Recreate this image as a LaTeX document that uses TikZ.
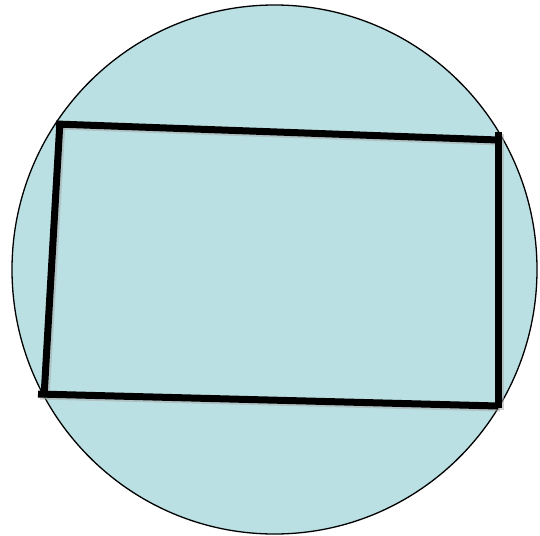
\documentclass[tikz,border=0pt]{standalone}
\definecolor{discfill}{RGB}{186,224,227}
\tikzset{
  edgeline/.style={line width=7pt, black, line cap=butt},
  shadowline/.style={line width=7pt, black!35, opacity=0.5},
}
\begin{document}
\begin{tikzpicture}[x=1pt,y=-1pt]
\useasboundingbox (0,0) rectangle (540,535);
\draw[fill=discfill, line width=1.3pt] (274.5,269.5) ellipse [x radius=262.5, y radius=264.5];
% corners
\coordinate (tl) at (60,124);
\coordinate (tr) at (498,140);
\coordinate (br) at (498,406);
\coordinate (bl) at (44,394);
% soft shadow
\begin{scope}[shift={(2,2)}]
\draw[shadowline] (56,124) -- (498,140);
\draw[shadowline] (498,132) -- (498,408);
\draw[shadowline] (38,394) -- (498,406);
\draw[shadowline] (60,121) -- (44,397);
\end{scope}
% edges
\draw[edgeline] (56,124) -- (tr);
\draw[edgeline] (498,132) -- (498,408);
\draw[edgeline] (38,394) -- (br);
\draw[edgeline] (60,121) -- (44,397);
\end{tikzpicture}
\end{document}
